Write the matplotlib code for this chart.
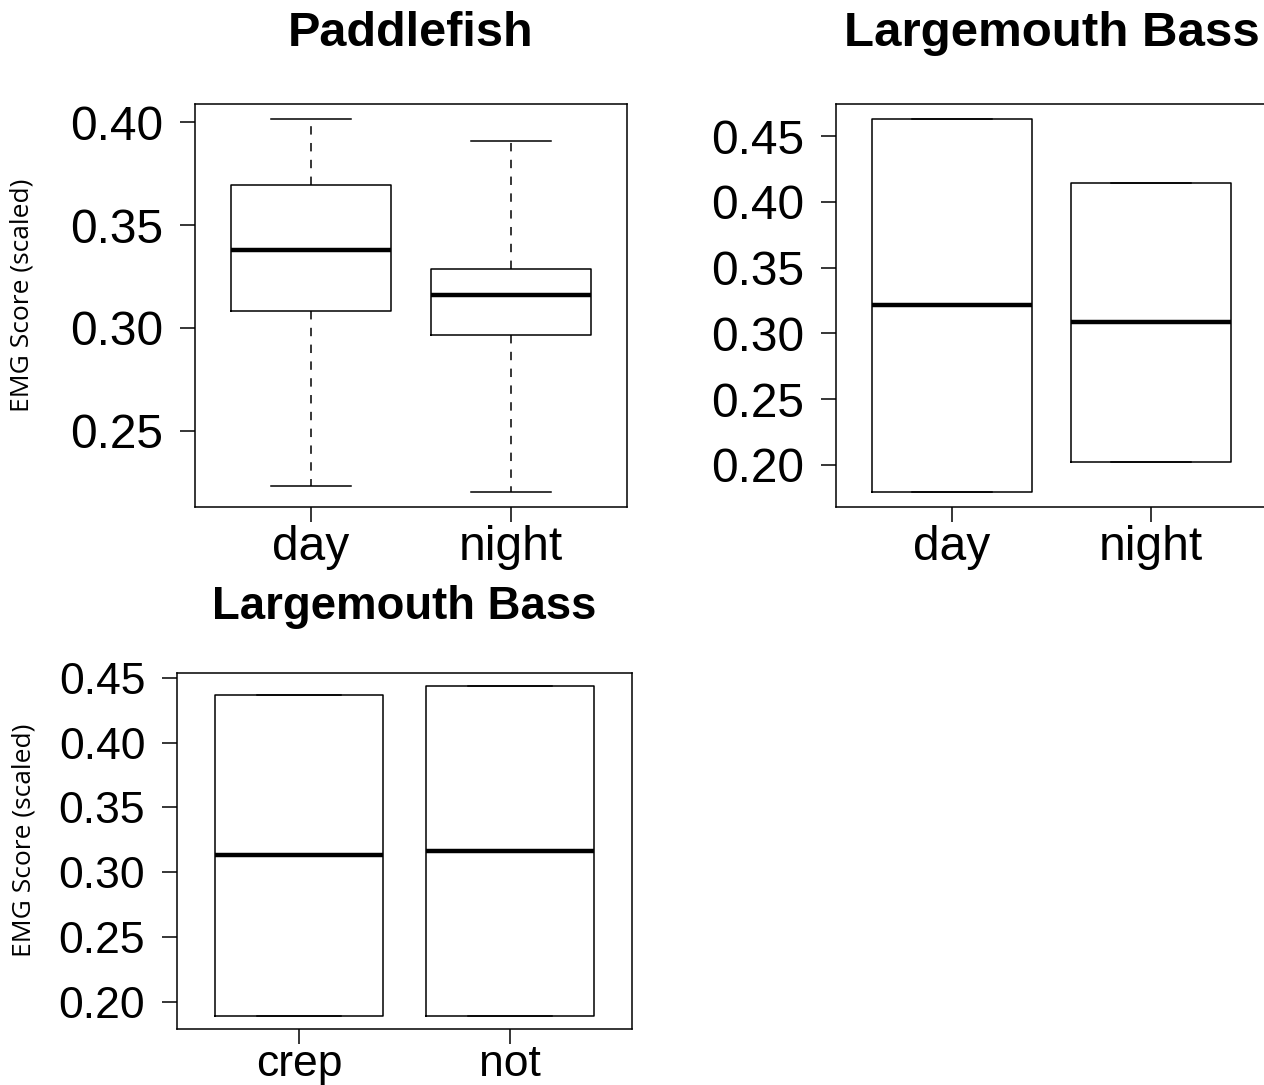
import matplotlib
matplotlib.use("Agg")
import matplotlib.pyplot as plt

plt.rcParams['font.family'] = ['Liberation Sans', 'DejaVu Sans']

# ---- data ----
pf_groups = ["day", "night"]
pf_whislo = [0.2232, 0.2201]
pf_q1 = [0.3084, 0.2966]
pf_med = [0.3380, 0.3162]
pf_q3 = [0.3697, 0.3289]
pf_whishi = [0.4017, 0.3911]

lmb1_groups = ["day", "night"]
lmb1_min = [0.1792, 0.2022]
lmb1_med = [0.3214, 0.3088]
lmb1_max = [0.4632, 0.4148]

lmb2_groups = ["crep", "not"]
lmb2_min = [0.1896, 0.1894]
lmb2_med = [0.3133, 0.3161]
lmb2_max = [0.4368, 0.4435]

pf_yticks = [0.25, 0.30, 0.35, 0.40]
lmb_yticks = [0.20, 0.25, 0.30, 0.35, 0.40, 0.45]

W, H = 1264, 1085
fig = plt.figure(figsize=(W / 100, H / 100), dpi=100)


def frac(left, top, right, bottom):
    return [left / W, 1 - bottom / H, (right - left) / W, (bottom - top) / H]


def draw(ax, groups, lo, q1, med, q3, hi, yticks, title, fs, tfs, title_pad, xpad):
    stats = []
    for g, a, b, c, d, e in zip(groups, lo, q1, med, q3, hi):
        stats.append(dict(label=g, whislo=a, q1=b, med=c, q3=d, whishi=e, fliers=[]))
    lw = 1.1
    ax.bxp(stats, positions=[1, 2], widths=0.8, showfliers=False,
           capwidths=0.4,
           boxprops=dict(color='black', lw=lw),
           medianprops=dict(color='black', lw=3.2, solid_capstyle='butt'),
           whiskerprops=dict(color='black', lw=lw, linestyle=(0, (5.5, 5.5))),
           capprops=dict(color='black', lw=lw))
    ymin, ymax = min(lo), max(hi)
    r = ymax - ymin
    ax.set_ylim(ymin - 0.04 * r, ymax + 0.04 * r)
    ax.set_xlim(0.42, 2.58)
    ax.set_yticks(yticks)
    ax.set_yticklabels([f"{v:.2f}" for v in yticks])
    ax.set_xticks([1, 2])
    ax.set_xticklabels(groups)
    ax.tick_params(axis='both', direction='out', length=10.8, width=1.1,
                   labelsize=fs, color='black')
    ax.tick_params(axis='y', pad=12)
    ax.tick_params(axis='x', pad=xpad)
    for s in ax.spines.values():
        s.set_linewidth(1.1)
        s.set_color('black')
    ax.set_title(title, fontsize=tfs, fontweight='bold', pad=title_pad)


ax1 = fig.add_axes(frac(195, 104, 627, 507))
draw(ax1, pf_groups, pf_whislo, pf_q1, pf_med, pf_q3, pf_whishi,
     pf_yticks, "Paddlefish", 34.5, 35, 42, 2)

ax2 = fig.add_axes(frac(836, 104, 1267, 507))
draw(ax2, lmb1_groups, lmb1_min, lmb1_min, lmb1_med, lmb1_max, lmb1_max,
     lmb_yticks, "Largemouth Bass", 34.5, 35.5, 42, 2)

ax3 = fig.add_axes(frac(177, 673, 632, 1029))
draw(ax3, lmb2_groups, lmb2_min, lmb2_min, lmb2_med, lmb2_max, lmb2_max,
     lmb_yticks, "Largemouth Bass", 32, 32.8, 39, 0)

ylab_font = ['Open Sans', 'DejaVu Sans']
fig.text(22 / W, 1 - 295 / H, "EMG Score (scaled)", rotation=90, fontsize=19,
         family=ylab_font, ha='center', va='center')
fig.text(24 / W, 1 - 840 / H, "EMG Score (scaled)", rotation=90, fontsize=19,
         family=ylab_font, ha='center', va='center')

fig.savefig("out.png", dpi=100)
